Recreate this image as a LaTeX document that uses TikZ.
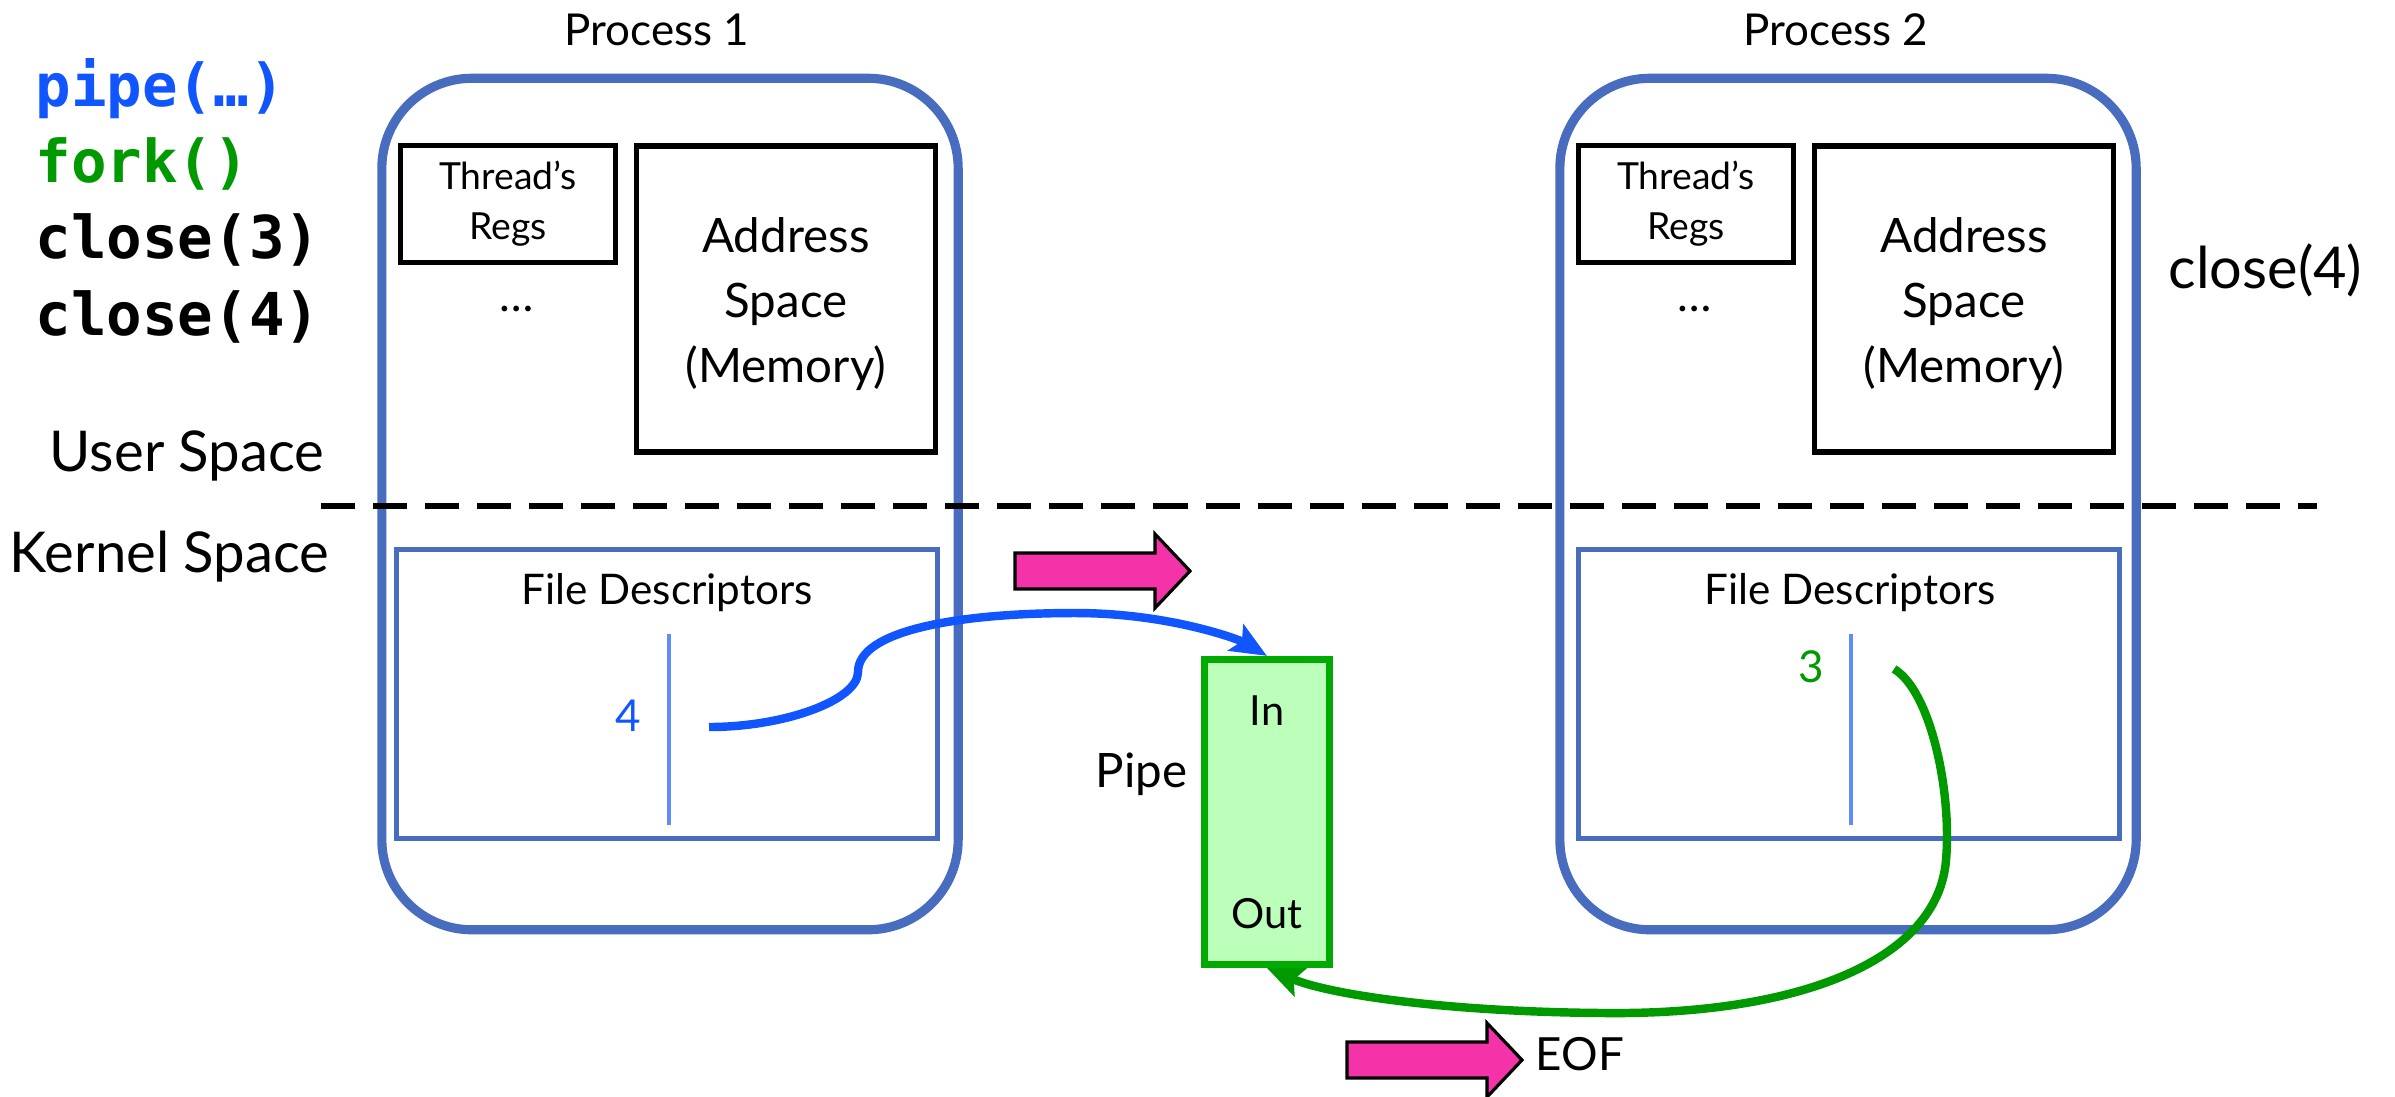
\documentclass[tikz,border=0pt]{standalone}
\usepackage{fontspec}
\setmainfont{Lato}
\newfontfamily\codefont{DejaVu Sans Mono}
\usetikzlibrary{arrows.meta, positioning}

\definecolor{procblue}{RGB}{72,108,190}
\definecolor{slotblue}{RGB}{95,140,250}
\definecolor{fdblue}{RGB}{17,85,255}
\definecolor{fdgreen}{RGB}{0,153,0}
\definecolor{pipefill}{RGB}{187,255,187}
\definecolor{pipeedge}{RGB}{0,170,0}
\definecolor{hotpink}{RGB}{243,51,167}

\begin{document}
\begin{tikzpicture}[x=0.01cm, y=-0.01cm, every node/.style={inner sep=0pt},
    proc/.style={draw=procblue, line width=2.6pt, rounded corners=0.9cm, minimum width=5.76cm, minimum height=8.51cm},
    regsbox/.style={draw, line width=1.5pt, align=center, minimum width=2.15cm, minimum height=1.17cm, font=\fontsize{10.6}{14.2}\selectfont},
    addrbox/.style={draw, line width=1.5pt, minimum width=2.99cm, minimum height=3.06cm},
    addrtext/.style={align=center, font=\fontsize{13.5}{18.5}\selectfont},
    fdbox/.style={draw=procblue, line width=1.4pt, minimum width=5.41cm, minimum height=2.89cm},
    title/.style={font=\fontsize{12.5}{15}\selectfont, anchor=base},
    label/.style={font=\fontsize{12}{15}\selectfont},
    spacelbl/.style={font=\fontsize{16}{19}\selectfont, anchor=base east},
    code/.style={font=\fontsize{16.8}{20}\codefont\bfseries, anchor=base west},
    slot/.style={draw=slotblue, line width=1pt},
    link/.style={line width=2.4pt, -{Stealth[length=0.36cm, width=0.3cm, inset=0.07cm]}},
    fatarrow/.pic={
        \draw[fill=hotpink, line width=0.9pt, line join=miter]
            (0,-18) -- (140,-18) -- (140,-37) -- (175,0) -- (140,37) -- (140,18) -- (0,18) -- cycle;
    }
]
    \useasboundingbox (0,0) rectangle (2395,1096);

    % system calls
    \node[code, text=fdblue] (callpipe) at (35,106) {pipe(…)};
    \node[code, text=fdgreen] (callfork) at (35,182) {fork()};
    \node[code] (callclose3) at (35,258) {close(3)};
    \node[code] (callclose4) at (35,335) {close(4)};

    % the two processes
    \node[proc] (proc1) at (670,504) {};
    \node[proc] (proc2) at (1848,504) {};
    \node[title] (title1) at (657,45) {Process 1};
    \node[title] (title2) at (1836,45) {Process 2};

    \node[regsbox] (regs1) at (508,204) {Thread’s\\Regs};
    \node[addrbox] (addr1) at (786,299) {};
    \node[addrtext] (addrtext1) at (786,304) {Address\\Space\\(Memory)};
    \node[label, font=\fontsize{13}{15}\selectfont, anchor=base] (dots1) at (517,311) {…};
    \node[regsbox] (regs2) at (1686,204) {Thread’s\\Regs};
    \node[addrbox] (addr2) at (1964,299) {};
    \node[addrtext] (addrtext2) at (1964,304) {Address\\Space\\(Memory)};
    \node[label, font=\fontsize{13}{15}\selectfont, anchor=base] (dots2) at (1695,311) {…};
    \node[label, font=\fontsize{16.4}{19}\selectfont, anchor=base west] (close4) at (2168,288) {close(4)};

    % user / kernel boundary
    \coordinate (bleft) at (321,506);
    \coordinate (bright) at (2317,506);
    \draw[line width=1.8pt, dash pattern=on 0.34cm off 0.18cm] (bleft) -- (bright);
    \node[spacelbl] (user) at (325,471) {User Space};
    \node[spacelbl] (kernel) at (330,572) {Kernel Space};

    % file descriptor tables
    \node[fdbox] (fd1) at (667,694) {};
    \node[fdbox] (fd2) at (1849,694) {};
    \node[label, anchor=base] (fdtitle1) at (667,604) {File Descriptors};
    \node[label, anchor=base] (fdtitle2) at (1850,604) {File Descriptors};
    \draw[slot] (669,634) -- (669,825);
    \draw[slot] (1851,634) -- (1851,825);
    \node[label, font=\fontsize{12.5}{15}\selectfont, text=fdblue] (num4) at (628,716) {4};
    \node[label, font=\fontsize{12.5}{15}\selectfont, text=fdgreen] (num3) at (1811,667) {3};

    % the pipe
    \node[draw=pipeedge, fill=pipefill, line width=2pt, minimum width=1.25cm, minimum height=3.05cm] (pipe) at (1267,812) {};
    \node[label, font=\fontsize{11.8}{14}\selectfont, anchor=base] (pipein) at (1267,725) {In};
    \node[label, font=\fontsize{11.8}{14}\selectfont, anchor=base] (pipeout) at (1267,928) {Out};
    \node[label, font=\fontsize{13.5}{16}\selectfont, anchor=base east] (pipename) at (1188,787) {Pipe};

    \pic at (1015,571) {fatarrow};
    \pic at (1347,1060) {fatarrow};
    \node[label, font=\fontsize{13}{16}\selectfont, anchor=base west] (eof) at (1535,1070) {EOF};

    % connections
    \coordinate (fd4) at (709,727);
    \coordinate (fd3) at (1894,669);
    \draw[link, draw=fdblue] (fd4) .. controls (785,727) and (858,700) .. (858,672)
        .. controls (858,630) and (960,613) .. (1075,613)
        .. controls (1170,613) and (1240,640) .. (pipe.north);
    \draw[link, draw=fdgreen] (fd3) .. controls (1930,690) and (1952,790) .. (1946,860)
        .. controls (1938,960) and (1800,1015) .. (1605,1013)
        .. controls (1450,1012) and (1330,995) .. (pipe.south);
\end{tikzpicture}
\end{document}
